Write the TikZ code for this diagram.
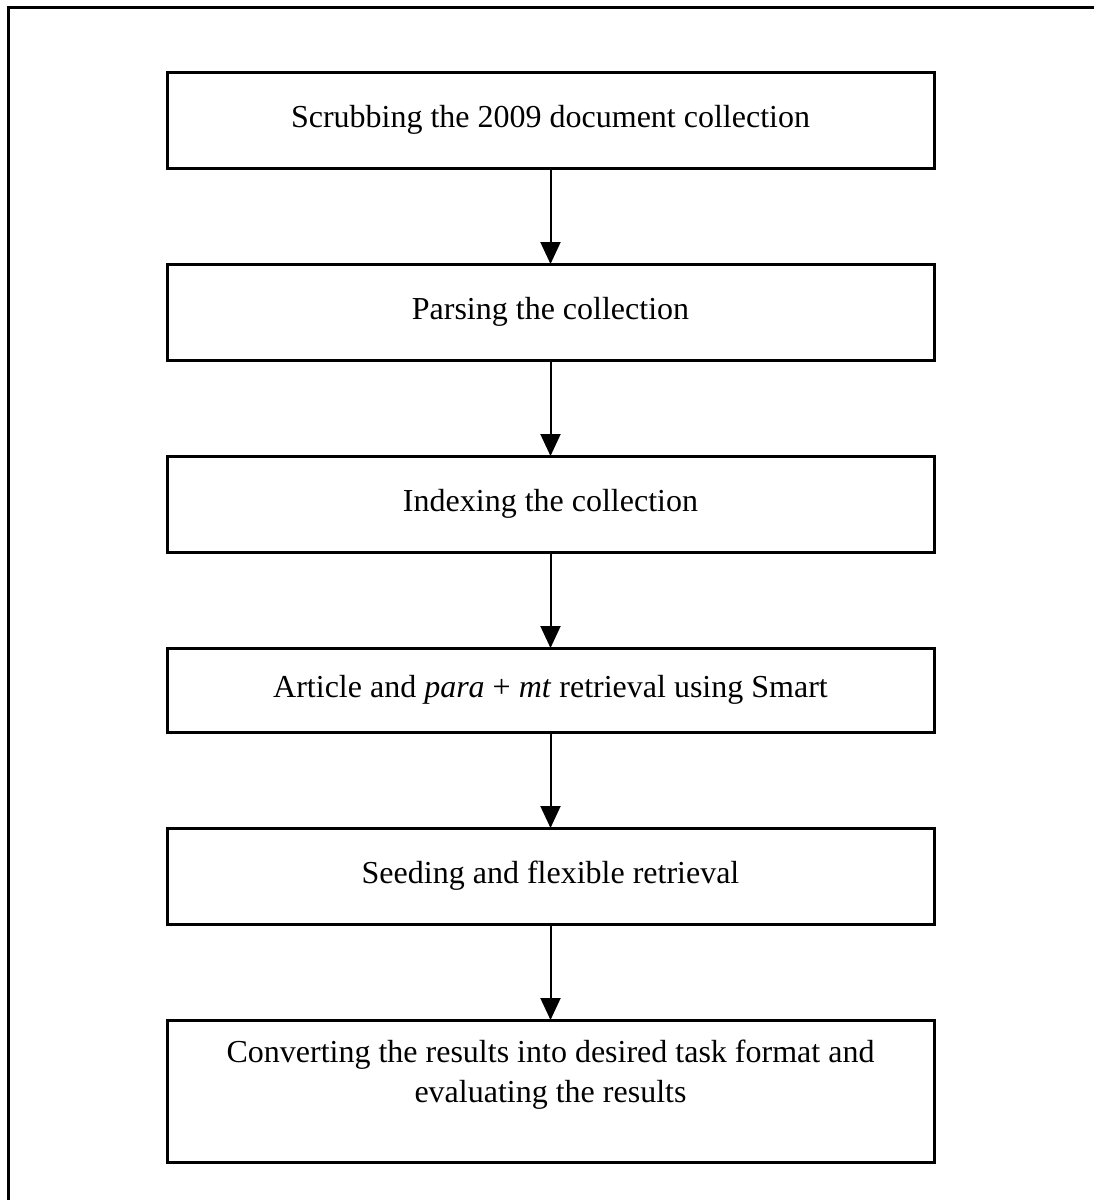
\documentclass[tikz,border=0pt]{standalone}
\usepackage{fontspec}
\setmainfont{Liberation Serif}
\usetikzlibrary{arrows.meta,positioning}
\begin{document}
\begin{tikzpicture}[x=0.5pt, y=-0.5pt, every node/.style={font=\fontsize{16}{20}\selectfont}, >={Triangle[length=11pt,width=10pt]},
	stepbox/.style={draw, line width=1.5pt, minimum width=383.5pt, minimum height=48pt, inner sep=0pt, outer sep=0pt, align=center}]
	\useasboundingbox (0,0) rectangle (1094,1200);
	\draw[line width=1.5pt] (8,1200) -- (8,7) -- (1094,7);
	\node[stepbox] (scrub) at (550.5,120) {Scrubbing the 2009 document collection};
	\node[stepbox, below=48pt of scrub] (parse) {Parsing the collection};
	\node[stepbox, below=48pt of parse] (index) {Indexing the collection};
	\node[stepbox, minimum height=42pt, below=48pt of index] (smart) {Article and \textit{para} + \textit{mt} retrieval using Smart};
	\node[stepbox, below=48pt of smart] (seed) {Seeding and flexible retrieval};
	\node[stepbox, minimum height=71pt, below=48pt of seed] (convert) {Converting the results into desired task format and\\ evaluating the results\\ \mbox{}};
	\foreach \a/\b in {scrub/parse, parse/index, index/smart, smart/seed, seed/convert} {\draw[->, line width=1pt] (\a.south) -- (\b.north);}
\end{tikzpicture}
\end{document}
